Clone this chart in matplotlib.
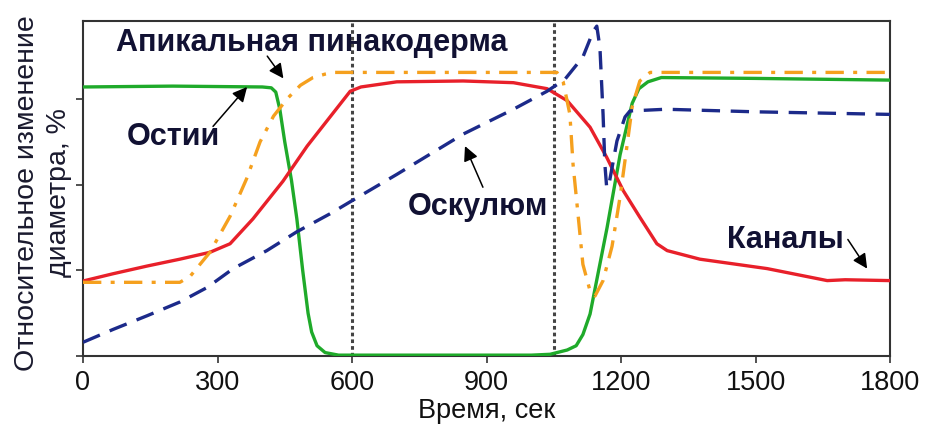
import matplotlib
matplotlib.use("Agg")
import matplotlib.pyplot as plt

plt.rcParams['font.family'] = ['Liberation Sans', 'DejaVu Sans']

# Time axis (s)
x_ticks = [0, 300, 600, 900, 1200, 1500, 1800]
vlines = [600, 1050]

# Остии (green)
t_ostia = [0, 200, 400, 420, 430, 439, 450, 465, 477, 490, 502, 510, 522, 540, 570, 1000, 1042,
           1080, 1100, 1115, 1131, 1169, 1198, 1225, 1240, 1260, 1290, 1500, 1800]
v_ostia = [3.14, 3.15, 3.14, 3.13, 3.08, 2.88, 2.50, 2.05, 1.60, 1.00, 0.50, 0.28, 0.12, 0.04, 0.01, 0.01, 0.02,
           0.07, 0.12, 0.25, 0.49, 1.50, 2.35, 2.95, 3.12, 3.20, 3.25, 3.24, 3.22]

# Каналы (red)
t_canal = [0, 67, 143, 216, 283, 328, 379, 446, 500, 551, 596, 620, 700, 848, 960, 1035, 1064,
           1080, 1131, 1168, 1205, 1242, 1280, 1303, 1376, 1526, 1660, 1700, 1800]
v_canal = [0.875, 0.96, 1.05, 1.13, 1.21, 1.31, 1.60, 2.04, 2.45, 2.79, 3.09, 3.14, 3.20, 3.21, 3.19, 3.12, 3.03,
           2.98, 2.67, 2.32, 1.93, 1.62, 1.31, 1.23, 1.13, 1.02, 0.88, 0.89, 0.88]

# Апикальная пинакодерма (orange)
t_apic = [0, 216, 239, 283, 328, 365, 395, 425, 455, 485, 513, 540, 560, 1057, 1071, 1086, 1093, 1104,
          1115, 1131, 1142, 1160, 1180, 1198, 1213, 1225, 1242, 1265, 1800]
v_apic = [0.86, 0.86, 0.93, 1.21, 1.63, 2.07, 2.50, 2.80, 3.00, 3.16, 3.25, 3.29, 3.31, 3.31, 3.20, 2.82, 2.24, 1.66,
          1.07, 0.76, 0.70, 0.88, 1.28, 1.86, 2.44, 2.91, 3.21, 3.31, 3.31]

# Оскулюм (blue)
t_osc = [0, 67, 143, 216, 277, 335, 410, 477, 551, 596, 700, 848, 960, 1035, 1075, 1115, 1138, 1146,
         1153, 1160, 1164, 1168, 1172, 1191, 1209, 1220, 1300, 1500, 1800]
v_osc = [0.16, 0.31, 0.47, 0.63, 0.80, 1.02, 1.23, 1.45, 1.66, 1.80, 2.12, 2.59, 2.88, 3.09, 3.23, 3.49, 3.79, 3.85,
         3.60, 2.82, 2.24, 1.97, 1.97, 2.51, 2.79, 2.86, 2.88, 2.85, 2.82]

fig = plt.figure(figsize=(9.25, 4.27), dpi=100)
ax = fig.add_axes([83/925, 1 - 357/427, (890-83)/925, (357-22)/427])

for xv in vlines:
    ax.axvline(xv, color='#444444', lw=2.2, ls=(0, (1.2, 1.0)), zorder=1)

ax.plot(t_ostia, v_ostia, color='#1faa2a', lw=2.4, zorder=3)
ax.plot(t_canal, v_canal, color='#e8202a', lw=2.4, zorder=3)
ax.plot(t_apic, v_apic, color='#f5a01e', lw=2.4, ls=(0, (5.5, 2.8, 1.2, 2.8)), zorder=3)
ax.plot(t_osc, v_osc, color='#1c2a8a', lw=2.4, ls=(0, (5.5, 3.2)), zorder=4)

ax.set_xlim(0, 1800)
ax.set_ylim(0, 3.91)
ax.set_xticks(x_ticks)
ax.set_xticklabels([str(v) for v in x_ticks])
ax.set_yticks([0, 1, 2, 3])
ax.set_yticklabels([])
ax.tick_params(axis='both', direction='out', length=5, width=1.2, colors='#333333',
               labelsize=19.5, labelcolor='#111111', pad=4)
for s in ax.spines.values():
    s.set_color('#333333')
    s.set_linewidth(1.5)

ax.set_xlabel('Время, сек', fontsize=19.5, color='#111111', labelpad=2)
ax.set_ylabel('Относительное изменение\nдиаметра, %', fontsize=20.5, color='#1a1a2e',
              linespacing=1.3, ha='center', va='center')
ax.yaxis.set_label_coords(-0.049, 0.49)

tc = '#111133'
fs = 22
ap = dict(arrowstyle='-|>', color='black', lw=1.1, mutation_scale=22, shrinkA=0, shrinkB=0)
ax.annotate('', xy=(447, 3.24), xytext=(411, 3.50), arrowprops=ap)
ax.text(511, 3.66, 'Апикальная пинакодерма', fontsize=fs, fontweight='bold', color=tc,
        ha='center', va='center')
ax.annotate('', xy=(366, 3.14), xytext=(290, 2.68), arrowprops=ap)
ax.text(201, 2.57, 'Остии', fontsize=fs, fontweight='bold', color=tc, ha='center', va='center')
ax.annotate('', xy=(852, 2.45), xytext=(892, 1.97), arrowprops=ap)
ax.text(881, 1.75, 'Оскулюм', fontsize=fs, fontweight='bold', color=tc, ha='center', va='center')
ax.annotate('', xy=(1749, 1.02), xytext=(1706, 1.36), arrowprops=ap)
ax.text(1566, 1.37, 'Каналы', fontsize=fs, fontweight='bold', color=tc, ha='center', va='center')

fig.savefig('out.png', dpi=100)
